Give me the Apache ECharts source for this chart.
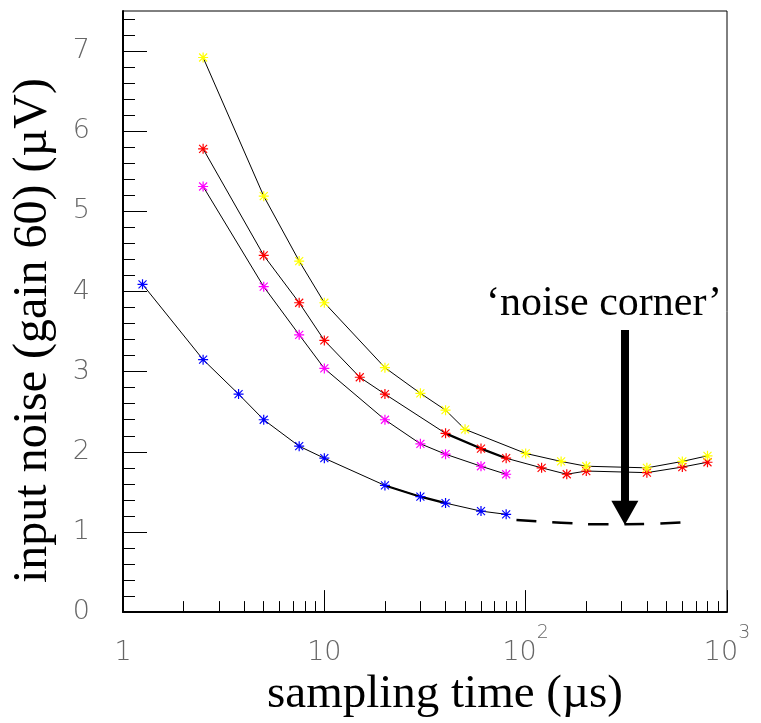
<!DOCTYPE html>
<html>
<head>
<meta charset="utf-8">
<script src="https://cdn.jsdelivr.net/npm/echarts@6/dist/echarts.min.js"></script>
<style>
html, body { margin: 0; padding: 0; background: #fff; }
#chart { width: 761px; height: 723px; }
</style>
</head>
<body>
<div id="chart"></div>
<script>
// sampling times (us) and input noise (uV)
const yellowT = [2.5, 5, 7.5, 10, 20, 30, 40, 50, 100, 150, 200, 400, 600, 800];
const yellowV = [6.92, 5.19, 4.38, 3.86, 3.05, 2.73, 2.52, 2.28, 1.98, 1.88, 1.82, 1.80, 1.88, 1.95];
const redT = [2.5, 5, 7.5, 10, 15, 20, 40, 60, 80, 120, 160, 200, 400, 600, 800];
const redV = [5.78, 4.45, 3.86, 3.39, 2.93, 2.72, 2.23, 2.04, 1.92, 1.80, 1.72, 1.76, 1.74, 1.81, 1.87];
const magentaT = [2.5, 5, 7.5, 10, 20, 30, 40, 60, 80];
const magentaV = [5.31, 4.06, 3.46, 3.04, 2.40, 2.10, 1.97, 1.82, 1.72];
const blueT = [1.25, 2.5, 3.75, 5, 7.5, 10, 20, 30, 40, 60, 80];
const blueV = [4.09, 3.15, 2.72, 2.40, 2.07, 1.92, 1.58, 1.44, 1.36, 1.26, 1.22];
// overlapping (darker) segments
const redBoldT = [40, 60, 80];
const redBoldV = [2.23, 2.04, 1.92];
const blueBoldT = [20, 30, 40];
const blueBoldV = [1.58, 1.44, 1.36];
// dashed extrapolation of the lowest curve
const cornerT = [90, 150, 250, 400, 600];
const cornerV = [1.15, 1.115, 1.095, 1.10, 1.12];
// arrow: at t, from top value down to head
const arrowT = 311;
const arrowFrom = 3.52;
const arrowTo = 1.24;

const xMajor = [1, 10, 100, 1000];
const xMinor = [2, 3, 4, 5, 6, 7, 8, 9, 20, 30, 40, 50, 60, 70, 80, 90, 200, 300, 400, 500, 600, 700, 800, 900];
const yMajor = [0, 1, 2, 3, 4, 5, 6, 7];
const yMinor = [];
for (let i = 1; i <= 37; i++) {
    if (i % 5 !== 0) yMinor.push(Math.round(i * 2) / 10);
}

const STAR = 'path://M0 4.4L10 4.4L10 5.6L0 5.6Z M4.4 0L5.6 0L5.6 10L4.4 10Z M0.6 1.4L1.4 0.6L9.4 8.6L8.6 9.4Z M8.6 0.6L9.4 1.4L1.4 9.4L0.6 8.6Z';

function pairs(t, v) {
    return t.map(function (x, i) { return [x, v[i]]; });
}

function markerSeries(name, t, v, color) {
    return {
        name: name,
        type: 'line',
        data: pairs(t, v),
        symbol: STAR,
        symbolSize: 10,
        itemStyle: {color: color},
        lineStyle: {color: '#000', width: 1},
        z: 3
    };
}

function boldSeries(t, v) {
    return {
        type: 'line',
        data: pairs(t, v),
        symbol: 'none',
        lineStyle: {color: '#000', width: 2.2},
        z: 2
    };
}

const chart = echarts.init(document.getElementById('chart'));

const tickLabelStyle = {
    color: '#666',
    fontFamily: 'DejaVu Sans',
    fontWeight: 200,
    fontSize: 27
};

chart.setOption({
    animation: false,
    grid: {
        left: 123,
        right: 34,
        top: 11,
        bottom: 109,
        show: true,
        borderColor: '#000',
        borderWidth: 1
    },
    xAxis: [
        {
            type: 'log',
            logBase: 10,
            min: 1,
            max: 1000,
            axisLine: {show: true, lineStyle: {color: '#000', width: 2}},
            axisTick: {inside: true, length: 22, customValues: xMajor, lineStyle: {color: '#000'}},
            minorTick: {show: false},
            splitLine: {show: false},
            axisLabel: {
                customValues: xMajor,
                margin: 26,
                formatter: function (v) {
                    if (v === 1) return '{p|1}';
                    if (v === 10) return '{p|10}';
                    return '{b|10}{s|' + Math.round(Math.log10(v)) + '}';
                },
                rich: {
                    p: Object.assign({}, tickLabelStyle, {lineHeight: 28, padding: [14, 0, 0, 0], verticalAlign: 'bottom'}),
                    b: Object.assign({}, tickLabelStyle, {lineHeight: 28, verticalAlign: 'bottom'}),
                    s: Object.assign({}, tickLabelStyle, {fontSize: 19, lineHeight: 18, padding: [0, 0, 24, 0], verticalAlign: 'bottom'})
                }
            },
            name: 'sampling time (µs)',
            nameLocation: 'middle',
            nameGap: 50,
            nameTextStyle: {
                fontFamily: 'Liberation Serif',
                fontSize: 47,
                color: '#000',
                padding: [0, 0, 0, 40]
            }
        },
        {
            type: 'log',
            logBase: 10,
            min: 1,
            max: 1000,
            position: 'bottom',
            axisLine: {show: false},
            axisTick: {inside: true, length: 11, customValues: xMinor, lineStyle: {color: '#000'}},
            axisLabel: {show: false},
            splitLine: {show: false}
        }
    ],
    yAxis: [
        {
            type: 'value',
            min: 0,
            max: 7.5,
            axisLine: {show: true, lineStyle: {color: '#000', width: 2}},
            axisTick: {inside: true, length: 24, customValues: yMajor, lineStyle: {color: '#000'}},
            splitLine: {show: false},
            axisLabel: Object.assign({customValues: yMajor, margin: 33}, tickLabelStyle),
            name: 'input noise (gain 60) (µV)',
            nameLocation: 'middle',
            nameRotate: 90,
            nameGap: 66,
            nameTextStyle: {
                fontFamily: 'Liberation Serif',
                fontSize: 48,
                color: '#000',
                padding: [0, 38, 0, 0]
            }
        },
        {
            type: 'value',
            min: 0,
            max: 7.5,
            position: 'left',
            axisLine: {show: false},
            axisTick: {inside: true, length: 12, customValues: yMinor, lineStyle: {color: '#000'}},
            axisLabel: {show: false},
            splitLine: {show: false}
        }
    ],
    series: [
        boldSeries(blueBoldT, blueBoldV),
        boldSeries(redBoldT, redBoldV),
        markerSeries('blue', blueT, blueV, '#0000ff'),
        markerSeries('magenta', magentaT, magentaV, '#ff00ff'),
        markerSeries('red', redT, redV, '#ff0000'),
        markerSeries('yellow', yellowT, yellowV, '#ffff00'),
        {
            type: 'line',
            data: pairs(cornerT, cornerV),
            smooth: true,
            symbol: 'none',
            lineStyle: {color: '#000', width: 2.5, type: [20, 16]},
            z: 2,
            markLine: {
                silent: true,
                symbol: ['none', 'triangle'],
                symbolSize: [27, 24],
                label: {show: false},
                lineStyle: {color: '#000', width: 8, type: 'solid'},
                itemStyle: {color: '#000'},
                data: [[{coord: [arrowT, arrowFrom]}, {coord: [arrowT, arrowTo]}]]
            }
        }
    ],
    graphic: [
        {
            type: 'text',
            x: 486,
            y: 283,
            style: {
                text: '‘noise corner’',
                font: '42px "Liberation Serif"',
                fill: '#000'
            }
        }
    ]
});

window.addEventListener('resize', function () {
    chart.resize();
});
</script>
</body>
</html>
